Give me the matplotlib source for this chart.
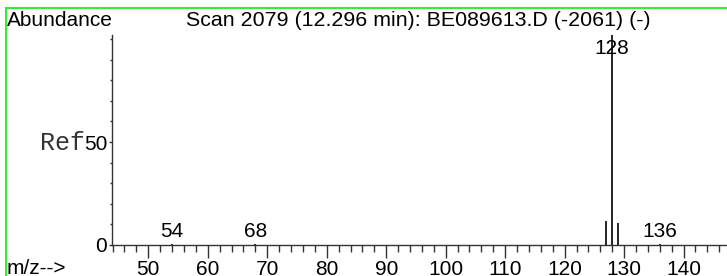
import matplotlib
matplotlib.use('Agg')
import matplotlib.pyplot as plt
from matplotlib.patches import Rectangle
from matplotlib.ticker import MultipleLocator

# Spectrum peaks (m/z, relative abundance)
mz = [54, 68, 127, 128, 129, 136]
abundance = [0.3, 0.3, 11.8, 102, 10.7, 0.3]
labelled = [54, 68, 128, 136]

title = 'Scan 2079 (12.296 min): BE089613.D (-2061) (-)'

plt.rcParams['font.family'] = ['Liberation Sans', 'DejaVu Sans']
fs = 15

fig = plt.figure(figsize=(7.27, 2.76), dpi=100)
ax = fig.add_axes([112 / 727, 31 / 276, 1 - 112 / 727, 210 / 276])

ax.vlines(mz, 0, abundance, colors='black', linewidth=1.2)

ymax = 102
ax.set_xlim(43.9, 147.3)
ax.set_ylim(0, ymax)

for m, h in zip(mz, abundance):
    if m in labelled:
        y = min(h + 1.5, ymax - 11)
        ax.text(m, y, str(m), ha='center', va='bottom', fontsize=fs)

for s in ['top', 'right']:
    ax.spines[s].set_visible(False)
for s in ['left', 'bottom']:
    ax.spines[s].set_linewidth(1.0)
    ax.spines[s].set_color('#333333')

ax.xaxis.set_major_locator(MultipleLocator(10))
ax.xaxis.set_minor_locator(MultipleLocator(2))
ax.yaxis.set_minor_locator(MultipleLocator(10))
ax.set_yticks([0, 50])
ax.tick_params(axis='x', which='major', length=9, width=1, pad=1.5, labelsize=fs, color='#333333')
ax.tick_params(axis='x', which='minor', length=5, width=1, color='#333333')
ax.tick_params(axis='y', which='major', length=2.5, width=1, pad=1, labelsize=fs, color='#333333')
ax.tick_params(axis='y', which='minor', length=1.5, width=1, color='#333333')

fig.text(7 / 727, 1 - 20 / 276, 'Abundance', ha='left', va='center', fontsize=fs)
fig.text(418 / 727, 1 - 20 / 276, title, ha='center', va='center', fontsize=15.4)
fig.text(7 / 727, 1 - 268 / 276, 'm/z-->', ha='left', va='center', fontsize=fs)
fig.text(85 / 727, 1 - 143 / 276, 'Ref', ha='right', va='center', fontsize=18,
         family='Liberation Mono', color='#333333')

fig.patches.append(Rectangle((6 / 727, -0.1), 1.0, 1 - 8 / 276 + 0.1,
                             transform=fig.transFigure, fill=False,
                             edgecolor='#33ee33', linewidth=1.5))

fig.savefig('out.png', dpi=100)
